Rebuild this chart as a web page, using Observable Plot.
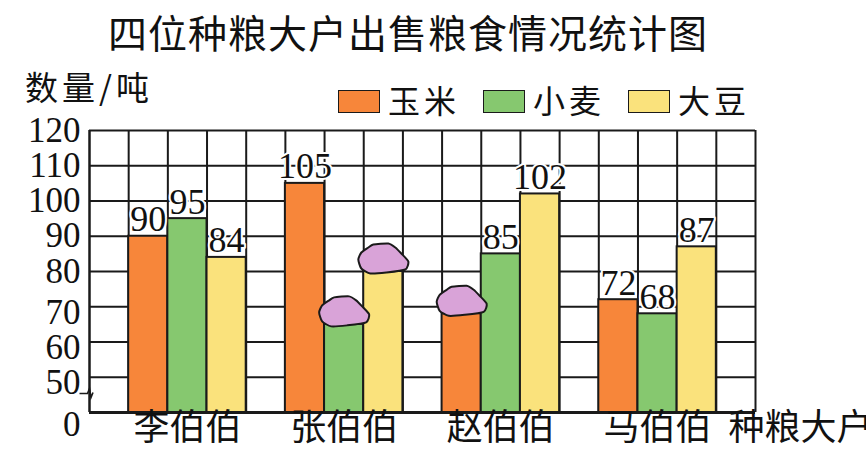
<!DOCTYPE html>
<html>
<head>
<meta charset="utf-8">
<script src="https://cdn.jsdelivr.net/npm/d3@7"></script>
<script src="https://cdn.jsdelivr.net/npm/@observablehq/plot@0.6"></script>
<style>
html,body{margin:0;padding:0;background:#fff;overflow:hidden}
#page{width:866px;height:468px;position:relative;font-family:"Noto Sans CJK SC",sans-serif;color:#111}
#title{height:62px;box-sizing:border-box;padding-top:12px;padding-right:50px;text-align:center;font-size:39px;line-height:39px;letter-spacing:1px;white-space:nowrap}
#row{height:46px;position:relative;z-index:1}
#ylab{position:absolute;left:25px;top:8px;font-size:33px;line-height:33px;letter-spacing:4px;white-space:nowrap}
#legend{position:absolute;left:338px;top:21px;display:flex;align-items:center;white-space:nowrap}
.item{display:flex;align-items:center;margin-right:23px}
.sw{width:40px;height:21px;border:1.5px solid #1a1a1a;margin-right:8px;position:relative;top:2px}
.lt{font-size:32px;line-height:32px;letter-spacing:4px}
#chart svg{display:block}
</style>
</head>
<body>
<div id="page">
  <div id="title"></div>
  <div id="row"><div id="ylab"></div><div id="legend"></div></div>
  <div id="chart"></div>
</div>
<script>
// ---- data ----
const title = "四位种粮大户出售粮食情况统计图";
const yLabel = "数量/吨";
const xLabel = "种粮大户";
const farmers = ["李伯伯", "张伯伯", "赵伯伯", "马伯伯"];
const crops = ["玉米", "小麦", "大豆"];
const cropColors = ["#f7863a", "#86c86f", "#fae27c"];
const corn = [90, 105, 68, 72];
const wheat = [95, 65, 85, 68];
const soy = [84, 80, 102, 87];
const covered = [["张伯伯", "小麦"], ["张伯伯", "大豆"], ["赵伯伯", "玉米"]];
const yTicks = [0, 50, 60, 70, 80, 90, 100, 110, 120];
const yBreak = 50;   // axis is broken between 0 and 50
const yStep = 10;    // the 0–50 stretch is drawn as one grid step

// ---- header ----
document.getElementById("title").textContent = title;
document.getElementById("ylab").textContent = yLabel;
const legend = document.getElementById("legend");
crops.forEach((c, i) => {
  const it = document.createElement("div"); it.className = "item";
  const sw = document.createElement("div"); sw.className = "sw"; sw.style.background = cropColors[i];
  const lt = document.createElement("div"); lt.className = "lt"; lt.textContent = c;
  it.appendChild(sw); it.appendChild(lt); legend.appendChild(it);
});

// ---- table ----
const series = [corn, wheat, soy];
const n = crops.length;
const nCols = farmers.length * (n + 1) + 1;
const table = farmers.flatMap((f, gi) => crops.map((c, si) => ({
  farmer: f, crop: c, value: series[si][gi], slot: gi * (n + 1) + 1 + si
})));
const isCovered = d => covered.some(([f, c]) => f === d.farmer && c === d.crop);
const shown = table.filter(d => !isCovered(d));
const hidden = table.filter(isCovered);

// ---- custom symbols ----
const blob = {
  draw(context, size) {
    const s = Math.sqrt(size / Math.PI) / 25;
    const pts = [[-10,-13],[5,-14],[12,-10],[18,-4],[25,4],[22,12],[3,15],[-13,16],[-22,11],[-25,2],[-22,-5],[-15,-10]];
    d3.line().curve(d3.curveCardinalClosed.tension(0.4)).context(context)(pts.map(([x, y]) => [x * s, y * s]));
  }
};
const breakMark = {
  draw(ctx, size) {
    const s = Math.sqrt(size / Math.PI) / 10;
    ctx.moveTo(-10 * s, 1 * s); ctx.lineTo(-2 * s, 1 * s); ctx.lineTo(0, -4 * s);
    ctx.lineTo(1.5 * s, 5 * s); ctx.lineTo(3.5 * s, 0);
  }
};

// ---- plot ----
const W = 866, H = 360, mt = 22, mb = 56, ml = 89, mr = 111;
const ink = "#1a1a1a";
// broken axis: squeeze [0, yBreak] into one grid step below yBreak
const yTransform = v => v < yBreak ? (yBreak - yStep) + v * yStep / yBreak : v;
const axisStyle = {tickSize: 0, tickPadding: 9, fontSize: 35, fontFamily: "Liberation Serif", label: null, fill: "#111"};

const chart = Plot.plot({
  width: W, height: H,
  marginTop: mt, marginBottom: mb, marginLeft: ml, marginRight: mr,
  style: {fontFamily: "'Liberation Serif', 'Noto Sans CJK SC', serif", background: "transparent", color: "#111", overflow: "hidden"},
  x: {domain: [0, nCols], axis: null},
  y: {transform: yTransform},
  color: {domain: crops, range: cropColors},
  marks: [
    Plot.ruleY(yTicks, {stroke: ink, strokeWidth: d => d === 0 ? 3 : 2}),
    Plot.ruleX(d3.range(nCols + 1), {stroke: ink, strokeWidth: d => d === 0 ? 2.5 : 2}),
    Plot.rect(table, {x1: "slot", x2: d => d.slot + 1, y1: 0, y2: "value", fill: "crop", stroke: ink, strokeWidth: 2}),
    Plot.text(shown, {x: d => d.slot + 0.5, y: "value", text: d => String(d.value), lineAnchor: "bottom", dy: -5,
      fontSize: 36, fontFamily: "Liberation Serif", fill: "#111", stroke: "white", strokeWidth: 4, paintOrder: "stroke"}),
    Plot.dot(hidden, {x: d => d.slot + 0.5, y: "value", symbol: blob, r: 25, fill: "#d9a3d8", stroke: ink, strokeWidth: 2, dy: -14}),
    Plot.axisY(yTicks.filter(t => t >= 80), {...axisStyle, dy: 0}),
    Plot.axisY(yTicks.filter(t => t >= yBreak && t < 80), {...axisStyle, dy: 6}),
    Plot.axisY(yTicks.filter(t => t < yBreak), {...axisStyle, dy: 12}),
    Plot.text(farmers, {x: (d, i) => i * (n + 1) + 1 + n / 2, frameAnchor: "bottom", dy: 27, fontSize: 36, fontFamily: "Noto Sans CJK SC", fill: "#111"}),
    Plot.text([xLabel], {frameAnchor: "bottom-right", textAnchor: "start", dx: -27, dy: 27, fontSize: 36, fontFamily: "Noto Sans CJK SC", fill: "#111"}),
    Plot.dot([yBreak], {frameAnchor: "bottom-left", dy: -20, symbol: breakMark, r: 10, fill: "none", stroke: ink, strokeWidth: 1.6})
  ]
});
document.getElementById("chart").appendChild(chart);
</script>
</body>
</html>
